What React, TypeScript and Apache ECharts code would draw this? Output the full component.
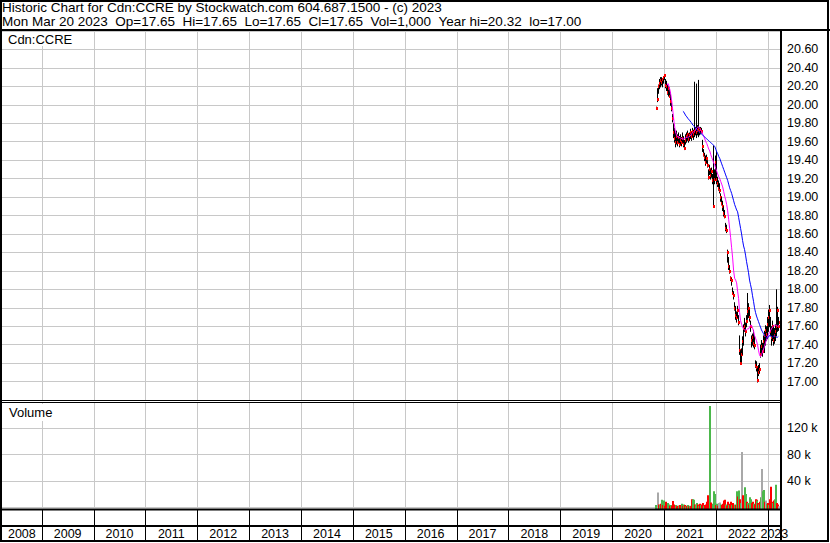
import React, { useEffect, useRef } from "react";
import * as echarts from "echarts";

// ---------- data ----------
const weeks = [
  "2020-11-06","2020-11-13","2020-11-20","2020-11-27","2020-12-04","2020-12-11","2020-12-18","2020-12-25","2021-01-01","2021-01-08",
  "2021-01-15","2021-01-22","2021-01-29","2021-02-05","2021-02-12","2021-02-19","2021-02-26","2021-03-05","2021-03-12","2021-03-19",
  "2021-03-26","2021-04-02","2021-04-09","2021-04-16","2021-04-23","2021-04-30","2021-05-07","2021-05-14","2021-05-21","2021-05-28",
  "2021-06-04","2021-06-11","2021-06-18","2021-06-25","2021-07-02","2021-07-09","2021-07-16","2021-07-23","2021-07-30","2021-08-06",
  "2021-08-13","2021-08-20","2021-08-27","2021-09-03","2021-09-10","2021-09-17","2021-09-24","2021-10-01","2021-10-08","2021-10-15",
  "2021-10-22","2021-10-29","2021-11-05","2021-11-12","2021-11-19","2021-11-26","2021-12-03","2021-12-10","2021-12-17","2021-12-24",
  "2021-12-31","2022-01-07","2022-01-14","2022-01-21","2022-01-28","2022-02-04","2022-02-11","2022-02-18","2022-02-25","2022-03-04",
  "2022-03-11","2022-03-18","2022-03-25","2022-04-01","2022-04-08","2022-04-15","2022-04-22","2022-04-29","2022-05-06","2022-05-13",
  "2022-05-20","2022-05-27","2022-06-03","2022-06-10","2022-06-17","2022-06-24","2022-07-01","2022-07-08","2022-07-15","2022-07-22",
  "2022-07-29","2022-08-05","2022-08-12","2022-08-19","2022-08-26","2022-09-02","2022-09-09","2022-09-16","2022-09-23","2022-09-30",
  "2022-10-07","2022-10-14","2022-10-21","2022-10-28","2022-11-04","2022-11-11","2022-11-18","2022-11-25","2022-12-02","2022-12-09",
  "2022-12-16","2022-12-23","2022-12-30","2023-01-06","2023-01-13","2023-01-20","2023-01-27","2023-02-03","2023-02-10","2023-02-17",
  "2023-02-24","2023-03-03","2023-03-10","2023-03-17","2023-03-20",
];

const lows = [
  19.96,20.04,20.13,20.18,20.2,20.22,20.2,20.24,20.28,20.19,
  20.16,20.12,20.1,20.09,20.0,19.94,19.82,19.65,19.6,19.55,
  19.58,19.56,19.6,19.55,19.58,19.56,19.6,19.55,19.52,19.58,
  19.6,19.62,19.6,19.62,19.64,19.62,19.66,19.63,19.66,19.68,
  19.65,19.68,19.66,19.68,19.69,19.7,19.5,19.45,19.4,19.35,
  19.38,19.33,19.2,19.25,19.2,19.22,19.15,18.9,19.15,19.2,
  19.15,19.12,19.08,19.05,18.96,18.92,18.86,18.8,18.78,18.64,
  18.62,18.3,18.22,18.18,18.1,18.05,17.95,17.9,17.78,17.68,
  17.65,17.7,17.62,17.3,17.2,17.22,17.3,17.4,17.55,17.5,
  17.6,17.68,17.7,17.66,17.55,17.38,17.4,17.38,17.36,17.16,
  17.12,17.05,17.0,17.07,17.1,17.27,17.3,17.28,17.36,17.32,
  17.4,17.45,17.47,17.55,17.6,17.5,17.4,17.45,17.4,17.42,
  17.45,17.5,17.55,17.56,17.65,
];

const highs = [
  19.98,20.18,20.22,20.28,20.3,20.3,20.29,20.31,20.32,20.28,
  20.26,20.22,20.2,20.18,20.14,20.02,19.9,19.8,19.75,19.7,
  19.72,19.68,19.7,19.66,19.68,19.65,19.7,19.66,19.62,19.68,
  19.7,19.72,19.68,19.7,19.74,19.7,19.75,19.73,20.25,19.76,
  20.23,19.78,20.27,19.76,19.76,19.75,19.62,19.52,19.48,19.45,
  19.46,19.4,19.3,19.35,19.3,19.32,19.25,19.56,19.3,19.45,
  19.5,19.22,19.18,19.15,19.04,19.0,18.96,18.9,18.86,18.72,
  18.7,18.43,18.35,18.26,18.14,18.12,18.02,17.98,17.86,17.82,
  17.76,17.82,17.72,17.5,17.34,17.36,17.49,17.62,17.69,17.64,
  17.72,17.96,17.85,17.78,17.66,17.5,17.52,17.56,17.5,17.23,
  17.22,17.15,17.12,17.18,17.2,17.4,17.45,17.42,17.5,17.55,
  17.61,17.6,17.7,17.78,17.83,17.7,17.6,17.66,17.6,17.58,
  17.62,18.0,17.81,17.7,17.65,
];

const closes = [
  19.97,20.06,20.2,20.24,20.27,20.25,20.28,20.3,20.32,20.22,
  20.2,20.14,20.18,20.1,20.04,19.96,19.86,19.7,19.64,19.6,
  19.66,19.6,19.65,19.58,19.62,19.6,19.64,19.57,19.53,19.62,
  19.66,19.68,19.63,19.67,19.7,19.66,19.72,19.68,19.72,19.74,
  19.7,19.73,19.74,19.72,19.74,19.72,19.55,19.47,19.43,19.38,
  19.42,19.35,19.22,19.3,19.24,19.28,19.18,18.9,19.2,19.38,
  19.2,19.15,19.1,19.08,19.0,18.94,18.9,18.83,18.8,18.66,
  18.64,18.4,18.25,18.2,18.12,18.1,17.96,17.94,17.8,17.72,
  17.7,17.78,17.65,17.34,17.2,17.3,17.44,17.58,17.6,17.55,
  17.66,17.76,17.8,17.7,17.6,17.45,17.48,17.42,17.4,17.18,
  17.16,17.08,17.02,17.1,17.14,17.3,17.38,17.33,17.44,17.5,
  17.56,17.52,17.62,17.7,17.78,17.55,17.48,17.6,17.45,17.5,
  17.55,17.6,17.78,17.6,17.65,
];

const volumes = [
  3000,1000,22000,4000,3000,5000,11000,3000,10000,2000,
  8000,5000,6000,4000,2000,3000,2000,9000,4000,2000,
  3000,1000,2000,2000,3000,1000,5000,2000,4000,3000,
  1000,2000,3000,1000,2000,1000,12000,12000,11000,4000,
  3000,6000,4000,2000,5000,3000,4000,6000,2000,3000,
  4000,8000,18000,16000,154000,7000,4000,5000,24000,20000,
  3000,5000,2000,6000,7000,4000,3000,5000,10000,11000,
  4000,2000,8000,3000,5000,8000,3000,6000,2000,4000,
  3000,24000,16000,25000,12000,6000,84000,18000,10000,30000,
  20000,8000,6000,4000,15000,12000,6000,8000,5000,4000,
  12000,11000,10000,6000,4000,8000,15000,58000,24000,26000,
  8000,10000,5000,6000,3000,12000,31000,8000,6000,10000,
  12000,34000,6000,4000,1000,
];

// u = up (green), d = down (red), f = unchanged (grey)
const volDir = [
  "u","u","f","d","u","d","u","d","u","d",
  "d","d","u","u","d","u","d","d","d","d",
  "u","d","d","u","d","d","u","d","u","d",
  "u","d","u","d","u","d","d","u","u","d",
  "u","u","d","u","d","u","d","d","u","d",
  "d","d","d","d","u","d","d","u","u","u",
  "d","u","d","f","f","u","d","d","d","d",
  "u","d","d","u","d","d","u","d","d","u",
  "d","u","d","u","d","u","f","d","d","u",
  "u","d","u","d","u","u","d","d","u","d",
  "d","d","u","d","u","d","u","f","u","u",
  "d","f","u","d","u","d","d","d","u","d",
  "u","u","d","d","f",
];

const maFast = [
  null,null,null,null,null,null,null,null,null,null,
  null,20.21,20.23,20.2,20.16,20.1,20.02,19.92,19.82,19.74,
  19.69,19.66,19.65,19.65,19.64,19.64,19.63,19.63,19.63,19.64,
  19.64,19.65,19.65,19.65,19.66,19.67,19.69,19.7,19.71,19.72,
  19.73,19.75,19.76,19.76,19.74,19.72,19.71,19.68,19.66,19.63,
  19.6,19.58,19.55,19.52,19.5,19.46,19.43,19.4,19.37,19.35,
  19.31,19.28,19.25,19.22,19.2,19.17,19.14,19.11,19.06,19.01,
  18.97,18.92,18.85,18.76,18.66,18.56,18.45,18.34,18.2,18.12,
  18.1,18.07,17.98,17.9,17.75,17.66,17.62,17.59,17.57,17.56,
  17.56,17.56,17.57,17.57,17.59,17.61,17.61,17.58,17.55,17.5,
  17.47,17.44,17.4,17.34,17.29,17.27,17.29,17.32,17.35,17.38,
  17.42,17.45,17.48,17.51,17.53,17.55,17.57,17.59,17.6,17.61,
  17.61,17.61,17.6,17.6,17.61,
];

const maSlow = [
  null,null,null,null,null,null,null,null,null,null,
  null,null,null,null,null,null,null,null,null,null,
  null,null,null,null,null,null,null,19.93,19.92,19.9,
  19.88,19.87,19.85,19.84,19.83,19.81,19.8,19.78,19.77,19.76,
  19.74,19.73,19.72,19.71,19.7,19.69,19.68,19.67,19.66,19.65,
  19.64,19.63,19.62,19.61,19.6,19.59,19.58,19.57,19.56,19.55,
  19.52,19.49,19.47,19.44,19.42,19.39,19.36,19.33,19.3,19.27,
  19.24,19.21,19.18,19.14,19.1,19.07,19.04,19.0,18.96,18.92,
  18.89,18.86,18.84,18.78,18.72,18.66,18.6,18.53,18.47,18.43,
  18.37,18.3,18.24,18.18,18.1,18.05,18.0,17.93,17.87,17.8,
  17.75,17.71,17.68,17.65,17.62,17.59,17.56,17.54,17.52,17.5,
  17.49,17.48,17.47,17.48,17.5,17.5,17.49,17.48,17.49,17.5,
  17.49,17.48,17.48,17.49,17.49,
];

const yearBoundaries = [2009,2010,2011,2012,2013,2014,2015,2016,2017,2018,2019,2020,2021,2022,2023];
const yearLabels = [2008,2009,2010,2011,2012,2013,2014,2015,2016,2017,2018,2019,2020,2021,2022,2023];

const headerLine1 = "Historic Chart for Cdn:CCRE by Stockwatch.com 604.687.1500 - (c) 2023";
const headerLine2 =
  "Mon Mar 20 2023 \u00a0Op=17.65 \u00a0Hi=17.65 \u00a0Lo=17.65 \u00a0Cl=17.65 \u00a0Vol=1,000 \u00a0Year hi=20.32 \u00a0lo=17.00";

// x range (decimal years) shown on the chart
const X_MIN = 2008.234;
const X_MAX = 2023.256;

const FONT = "'Liberation Sans', Arial, Helvetica, sans-serif";
const FS_HEAD = 13.5;
const FS_LABEL = 13;
const FS_AXIS = 12.5;
const GRID_GREY = "#c8c8c8";
const VOL_COLORS: Record<string, string> = { u: "#4cb84c", d: "#ff0000", f: "#a8a8a8" };

function toYear(s: string): number {
  const d = Date.parse(s + "T00:00:00Z");
  const y = Number(s.slice(0, 4));
  const a = Date.UTC(y, 0, 1);
  const b = Date.UTC(y + 1, 0, 1);
  return y + (d - a) / (b - a);
}

function buildOption(): any {
  const xs = weeks.map(toYear);
  const priceData = xs.map((x, i) => [x, lows[i], highs[i], closes[i]]);
  const volData = xs.map((x, i) => [x, volumes[i]]);
  const fastData = xs.map((x, i) => [x, maFast[i]]).filter((p) => p[1] != null);
  const slowData = xs.map((x, i) => [x, maSlow[i]]).filter((p) => p[1] != null);

  const xAxisBase = { type: "value", min: X_MIN, max: X_MAX, show: false };
  const labelStyle = { color: "#000", fontSize: FS_AXIS, fontFamily: FONT };

  const yearLine = (yMid: number) => ({
    type: "custom",
    silent: true,
    z: 1,
    clip: false,
    data: yearBoundaries.map((y) => [y, yMid]),
    renderItem: (params: any, api: any) => {
      const cs = params.coordSys;
      const x = Math.round(api.coord([api.value(0), api.value(1)])[0]) + 0.5;
      return {
        type: "line",
        shape: { x1: x, y1: cs.y, x2: x, y2: cs.y + cs.height },
        style: { stroke: GRID_GREY, lineWidth: 1 },
      };
    },
  });

  const headText = { fontSize: FS_HEAD, fontWeight: "normal", color: "#000", fontFamily: FONT };
  const labText = { fontSize: FS_LABEL, fontWeight: "normal", color: "#000", fontFamily: FONT };

  return {
    animation: false,
    backgroundColor: "#fff",
    title: [
      { text: headerLine1, left: 2, top: 0, padding: 0, textStyle: headText },
      { text: headerLine2, left: 2, top: 14, padding: 0, textStyle: headText },
      { text: "Cdn:CCRE", left: 3, top: 32, padding: [1, 3, 0, 5], backgroundColor: "#fff", textStyle: labText },
      { text: "Volume", left: 3, top: 404, padding: [2, 3, 2, 6], backgroundColor: "#fff", textStyle: labText },
    ],
    grid: [
      { left: 2, right: 49, top: 31, height: 369 },
      { left: 2, right: 49, top: 402, height: 105 },
      { left: 2, right: 49, top: 510, height: 31 },
    ],
    xAxis: [
      { ...xAxisBase, gridIndex: 0 },
      { ...xAxisBase, gridIndex: 1 },
      { ...xAxisBase, gridIndex: 2 },
    ],
    yAxis: [
      {
        type: "value",
        gridIndex: 0,
        position: "right",
        min: 16.8,
        max: 20.8,
        interval: 0.2,
        axisLine: { show: false },
        axisTick: { show: false },
        axisLabel: {
          ...labelStyle,
          margin: 6,
          formatter: (v: number) => (v < 16.9 || v > 20.7 ? "" : v.toFixed(2)),
        },
        splitLine: { show: true, lineStyle: { color: GRID_GREY, width: 1 } },
      },
      {
        type: "value",
        gridIndex: 1,
        position: "right",
        min: 0,
        max: 160000,
        interval: 40000,
        axisLine: { show: false },
        axisTick: { show: false },
        axisLabel: {
          ...labelStyle,
          margin: 6,
          formatter: (v: number) => (v <= 0 || v >= 160000 ? "" : v / 1000 + " k"),
        },
        splitLine: { show: true, lineStyle: { color: GRID_GREY, width: 1 } },
      },
      { type: "value", gridIndex: 2, min: 0, max: 1, show: false },
    ],
    series: [
      { ...yearLine(17), xAxisIndex: 0, yAxisIndex: 0 },
      { ...yearLine(50000), xAxisIndex: 1, yAxisIndex: 1 },
      {
        name: "price",
        type: "custom",
        xAxisIndex: 0,
        yAxisIndex: 0,
        z: 3,
        clip: false,
        data: priceData,
        renderItem: (params: any, api: any) => {
          const lo = api.coord([api.value(0), api.value(1)]);
          const hi = api.coord([api.value(0), api.value(2)]);
          const cl = api.coord([api.value(0), api.value(3)]);
          const x = Math.round(lo[0]);
          return {
            type: "group",
            children: [
              {
                type: "line",
                shape: { x1: x + 0.5, y1: hi[1], x2: x + 0.5, y2: lo[1] + 1 },
                style: { stroke: "#000", lineWidth: 1 },
              },
              {
                type: "rect",
                shape: { x: x, y: Math.round(cl[1]) - 1, width: 2, height: 3 },
                style: { fill: "#ff0000" },
              },
            ],
          };
        },
      },
      {
        name: "ma fast",
        type: "line",
        xAxisIndex: 0,
        yAxisIndex: 0,
        z: 4,
        data: fastData,
        showSymbol: false,
        symbol: "none",
        lineStyle: { color: "#ff00ff", width: 1 },
      },
      {
        name: "ma slow",
        type: "line",
        xAxisIndex: 0,
        yAxisIndex: 0,
        z: 4,
        data: slowData,
        showSymbol: false,
        symbol: "none",
        lineStyle: { color: "#0000ff", width: 1 },
      },
      {
        name: "volume",
        type: "custom",
        xAxisIndex: 1,
        yAxisIndex: 1,
        z: 3,
        clip: false,
        data: volData,
        renderItem: (params: any, api: any) => {
          const cs = params.coordSys;
          const top = api.coord([api.value(0), api.value(1)]);
          const x = Math.round(top[0]);
          const base = cs.y + cs.height + 2;
          return {
            type: "rect",
            shape: { x: x - 1, y: top[1], width: 2, height: base - top[1] },
            style: { fill: VOL_COLORS[volDir[params.dataIndex]] },
          };
        },
      },
      {
        name: "years",
        type: "custom",
        xAxisIndex: 2,
        yAxisIndex: 2,
        z: 3,
        clip: false,
        silent: true,
        data: yearLabels.map((y) => [y, 0.5]),
        renderItem: (params: any, api: any) => {
          const cs = params.coordSys;
          const yr = api.value(0);
          const s = Math.max(yr, X_MIN);
          const e = Math.min(yr + 1, X_MAX);
          const xs0 = api.coord([s, 0.5])[0];
          const xe0 = api.coord([e, 0.5])[0];
          const children: any[] = [];
          if (yr > X_MIN) {
            const lx = Math.round(xs0) + 0.5;
            children.push({
              type: "line",
              shape: { x1: lx, y1: cs.y, x2: lx, y2: cs.y + cs.height },
              style: { stroke: "#000", lineWidth: 1 },
            });
          }
          children.push({
            type: "text",
            style: {
              text: String(yr),
              x: (xs0 + xe0) / 2,
              y: cs.y + cs.height * 0.76,
              align: "center",
              verticalAlign: "middle",
              fill: "#000",
              font: `${FS_AXIS}px ${FONT}`,
            },
          });
          return { type: "group", children };
        },
      },
    ],
    graphic: [
      { type: "rect", silent: true, z: 100, shape: { x: 1, y: 1, width: 827, height: 540 }, style: { fill: "none", stroke: "#000", lineWidth: 2 } },
      { type: "line", silent: true, z: 100, shape: { x1: 0, y1: 30, x2: 830, y2: 30 }, style: { stroke: "#000", lineWidth: 2 } },
      { type: "line", silent: true, z: 100, shape: { x1: 781, y1: 30, x2: 781, y2: 542 }, style: { stroke: "#000", lineWidth: 2 } },
      { type: "line", silent: true, z: 100, shape: { x1: 0, y1: 400.5, x2: 781, y2: 400.5 }, style: { stroke: "#000", lineWidth: 1 } },
      { type: "line", silent: true, z: 100, shape: { x1: 0, y1: 402.5, x2: 781, y2: 402.5 }, style: { stroke: "#000", lineWidth: 1 } },
      { type: "line", silent: true, z: 100, shape: { x1: 0, y1: 509.5, x2: 781, y2: 509.5 }, style: { stroke: "#000", lineWidth: 2 } },
      { type: "line", silent: true, z: 100, shape: { x1: 0, y1: 526, x2: 781, y2: 526 }, style: { stroke: "#000", lineWidth: 2 } },
    ],
  };
}

export default function App() {
  const ref = useRef<HTMLDivElement>(null);
  useEffect(() => {
    if (!ref.current) return;
    const chart = echarts.init(ref.current, undefined, { renderer: "svg" });
    chart.setOption(buildOption());
    return () => chart.dispose();
  }, []);
  return (
    <div
      ref={ref}
      style={{ width: 830, height: 543, position: "absolute", left: 0, top: 0, background: "#fff" }}
    />
  );
}
